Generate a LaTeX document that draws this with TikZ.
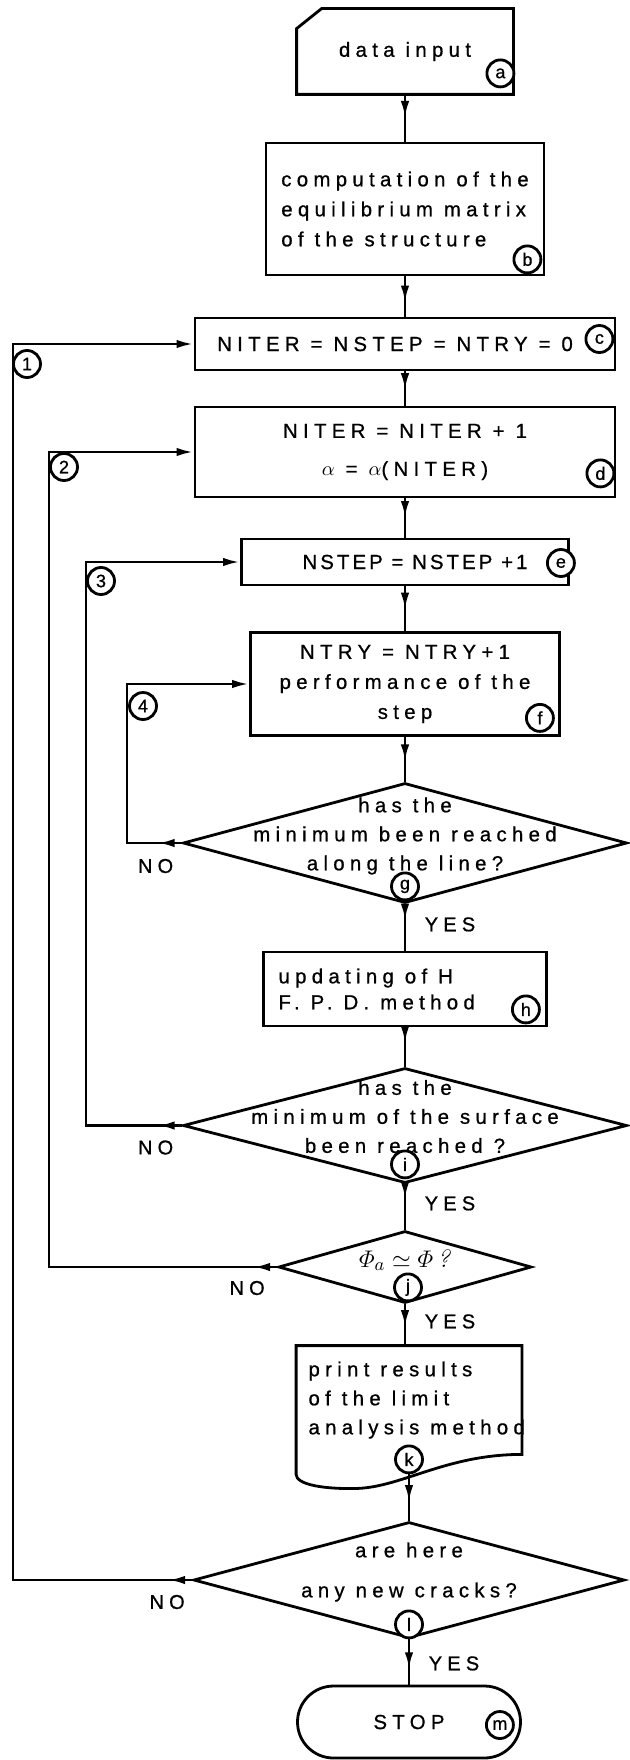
\documentclass[tikz,border=0pt]{standalone}
\usepackage{fontspec}
\usepackage{amsmath}
\newfontfamily\chartfont{Liberation Sans}[LetterSpace=26, FakeBold=0.8]
\newfontfamily\tagfont{Liberation Sans}[FakeBold=0.8]
\usetikzlibrary{shapes.geometric, shapes.misc, arrows.meta, decorations.markings}
\colorlet{chart line}{black}
\def\tip{Latex[length=8.5pt,width=4.2pt]}
\tikzset{outline/.style={draw=chart line, line width=1.4pt},
    procbox/.style={outline, rectangle, inner sep=0pt, align=center,
        font=\chartfont\fontsize{10.2}{15}\selectfont},
    decision/.style={outline, diamond, inner sep=0pt},
    question/.style={inner sep=0pt, align=center,
        font=\chartfont\fontsize{10.2}{14.5}\selectfont},
    answer/.style={inner sep=0pt, font=\chartfont\fontsize{10}{10}\selectfont},
    tag/.style={outline, circle, fill=white, inner sep=0pt, minimum size=13.5pt,
        font=\tagfont\fontsize{9}{9}\selectfont},
    flow/.style={draw=chart line, line width=1.4pt},
    midarrow/.style={postaction={decorate},
        decoration={markings, mark=at position #1 with {\arrow{\tip}}}},
    midarrow/.default=0.55}

\begin{document}
\begin{tikzpicture}[x=0.5pt, y=-0.5pt]
    \useasboundingbox (0,0) rectangle (630,1760);
    % main column
    \node[procbox, draw=none, minimum width=107pt, minimum height=41.5pt] (a) at (405,51.5) {data input};
    \draw[outline] ([xshift=12.5pt]a.north west) -- (a.north east) -- (a.south east)
        -- (a.south west) -- ([yshift=-10pt]a.north west) -- cycle;
    \node[procbox, minimum width=139pt, minimum height=66pt, align=left] (b) at (405,209)
        {computation of the\\equilibrium matrix\\of the structure};
    \node[procbox, minimum width=210pt, minimum height=26pt] (c) at (405,344)
        {NITER = NSTEP = NTRY = 0\hspace*{10pt}};
    \node[procbox, minimum width=210pt, minimum height=45pt] (d) at (405,452)
        {NITER = NITER + 1\\[4pt]$\alpha$ = $\alpha$(NITER)};
    \node[procbox, minimum width=163.5pt, minimum height=23pt] (e) at (405,562)
        {\hspace*{10pt}\addfontfeature{LetterSpace=15}NSTEP = NSTEP +1};
    \node[procbox, minimum width=154.5pt, minimum height=51.5pt] (f) at (405,684)
        {NTRY = NTRY+1\\performance of the\\step};
    \node[decision, minimum width=222pt, minimum height=60pt] (g) at (405,843) {};
    \node[question] (gq) at ([yshift=3.5pt]g.center) {has the\\minimum been reached\\along the line?};
    \node[procbox, minimum width=141.5pt, minimum height=37pt] (h) at (405,989) {};
    \node[question, anchor=west, align=left] (ht) at ([xshift=8pt]h.west)
        {updating of H\\[-1.5pt]F. P. D. method};
    \node[decision, minimum width=222pt, minimum height=57.5pt] (i) at (405,1125.5) {};
    \node[question] (iq) at ([yshift=4.5pt]i.center) {has the\\minimum of the surface\\been reached ?};
    \node[decision, minimum width=126.5pt, minimum height=36pt] (j) at (405,1267) {};
    \node[question, font=\fontsize{12.5}{12.5}\selectfont] (jq) at ([yshift=3.5pt]j.center)
        {$\varPhi_a\simeq\varPhi$\,\textit{?}};
    \node[procbox, draw=none, minimum width=111.5pt, minimum height=53pt] (k) at (409,1400) {};
    \draw[outline] (k.north west) -- (k.north east) -- (k.south east)
        .. controls +(-75,0) and +(45,-2) .. ([shift={(62,34)}]k.south west)
        .. controls +(-35,1) and +(0,10) .. ([shift={(0,20)}]k.south west) -- cycle;
    \node[question, anchor=west, align=left] (kt) at ([xshift=6pt]k.west)
        {print results\\of the limit\\analysis method};
    \node[decision, minimum width=215.5pt, minimum height=58pt] (l) at (409,1580) {};
    \node[question] (lq) at ([yshift=4pt]l.center) {are here\\[5.5pt]any new cracks?};
    \node[procbox, rounded rectangle, minimum width=111.5pt, minimum height=36pt] (m) at (409,1722) {STOP};

    % letter tags
    \node[tag] (ta) at ([shift={(-13,-21)}]a.south east) {a};
    \node[tag] (tb) at ([shift={(-18,-17)}]b.south east) {b};
    \node[tag] (tc) at ([shift={(-17,-5)}]c.east) {c};
    \node[tag] (td) at ([shift={(-16,-25)}]d.south east) {d};
    \node[tag] (te) at ([shift={(-9,1)}]e.east) {e};
    \node[tag] (tf) at ([shift={(-21,-19)}]f.south east) {f};
    \node[tag] (tg) at ([shift={(0,-18)}]g.south) {g};
    \node[tag] (th) at ([shift={(-22,-18)}]h.south east) {h};
    \node[tag] (ti) at ([shift={(0,-20)}]i.south) {i};
    \node[tag] (tj) at ([shift={(3,-17)}]j.south) {j};
    \node[tag] (tk) at ([shift={(0,5)}]k.south) {k};
    \node[tag] (tl) at ([shift={(0,-15)}]l.south) {l};
    \node[tag] (tm) at ([shift={(-22,3)}]m.east) {m};

    % straight flow
    \draw[flow, midarrow=0.5] (a.south) -- (b.north);
    \draw[flow, midarrow=0.65] (b.south) -- (c.north);
    \draw[flow, midarrow] (c.south) -- (d.north);
    \draw[flow, midarrow=0.5] (d.south) -- (e.north);
    \draw[flow, midarrow=0.52] (e.south) -- (f.north);
    \draw[flow, midarrow] (f.south) -- (g.north);
    \draw[flow, midarrow=0.35] (g.south) -- (h.north);
    \draw[flow, midarrow=0.4] (h.south) -- (i.north);
    \draw[flow, midarrow=0.32] (i.south) -- (j.north);
    \draw[flow, midarrow] (j.south) -- (j.south |- k.north);
    \draw[flow, midarrow=0.6] (tk.south) -- (l.north);
    \draw[flow, midarrow=0.66] (l.south) -- (m.north);

    % loops back
    \coordinate (loop1) at (13,344);
    \coordinate (loop2) at (49,452);
    \coordinate (loop3) at (86,562);
    \coordinate (loop4) at (127,684);
    \draw[flow, midarrow=12pt, -{\tip}] (g.west) -| (loop4) -- (f.west);
    \draw[flow, midarrow=12pt, -{\tip}] (i.west) -| (loop3) -- (e.west);
    \draw[flow, midarrow=12pt, -{\tip}] (j.west) -| (loop2) -- (d.west);
    \draw[flow, midarrow=12pt, -{\tip}] (l.west) -| (loop1) -- (c.west);
    \node[tag] (t1) at ([shift={(14,20)}]loop1) {1};
    \node[tag] (t2) at ([shift={(15,15)}]loop2) {2};
    \node[tag] (t3) at ([shift={(15,19)}]loop3) {3};
    \node[tag] (t4) at ([shift={(16,22)}]loop4) {4};

    % answers
    \node[answer] (gno) at ([shift={(-26,23)}]g.west) {NO};
    \node[answer] (gyes) at ([shift={(45,20)}]g.south) {YES};
    \node[answer] (ino) at ([shift={(-26,22)}]i.west) {NO};
    \node[answer] (iyes) at ([shift={(45,19)}]i.south) {YES};
    \node[answer] (jno) at ([shift={(-30,21)}]j.west) {NO};
    \node[answer] (jyes) at ([shift={(45,17)}]j.south) {YES};
    \node[answer] (lno) at ([shift={(-25,22)}]l.west) {NO};
    \node[answer] (lyes) at ([shift={(45,24)}]l.south) {YES};
\end{tikzpicture}
\end{document}
